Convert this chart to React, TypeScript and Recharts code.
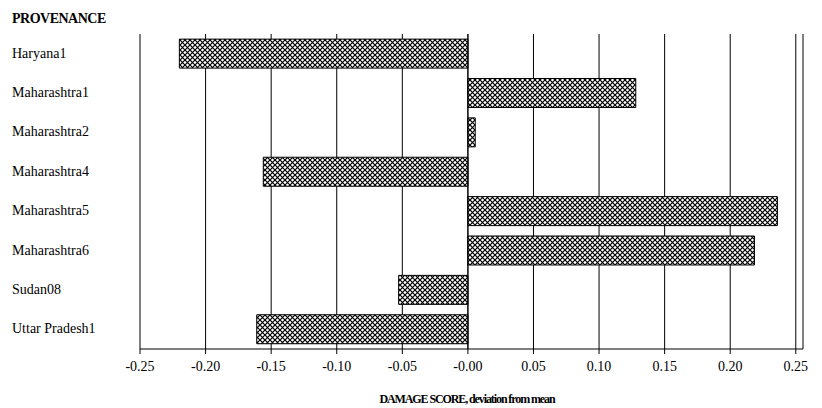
import {
  BarChart,
  Bar,
  XAxis,
  YAxis,
  CartesianGrid,
  ReferenceLine,
  ReferenceArea,
} from 'recharts';

const provenances = [
  'Haryana1',
  'Maharashtra1',
  'Maharashtra2',
  'Maharashtra4',
  'Maharashtra5',
  'Maharashtra6',
  'Sudan08',
  'Uttar Pradesh1',
];

const damageScores = [-0.22, 0.128, 0.0056, -0.156, 0.236, 0.2185, -0.0528, -0.161];

const xTicks = [-0.25, -0.2, -0.15, -0.1, -0.05, 0, 0.05, 0.1, 0.15, 0.2, 0.25];

const data = provenances.map((name, i) => ({ name, score: damageScores[i] }));

const FONT = '"Times New Roman", "Liberation Serif", Times, serif';

// category labels are left aligned at the page edge, not against the axis
const LeftTick = ({ y, payload }: any) => (
  <text x={12} y={y} dy={4} fill="#000" style={{ fontSize: 14, fontFamily: FONT }}>
    {payload.value}
  </text>
);

const BottomTick = ({ x, y, payload }: any) => (
  <text x={x} y={y} dy={15} textAnchor="middle" fill="#000" style={{ fontSize: 14, fontFamily: FONT }}>
    {payload.value === 0 ? '-0.00' : payload.value.toFixed(2)}
  </text>
);

export default function App() {
  return (
    <div style={{ position: 'absolute', left: 0, top: 0, width: 822, height: 408, background: '#fff' }}>
      <BarChart
        width={822}
        height={408}
        data={data}
        layout="vertical"
        margin={{ top: 34, right: 19, left: 0, bottom: 29 }}
        barCategoryGap="13%"
      >
        <defs>
          <pattern id="hatch" width="5" height="5" patternUnits="userSpaceOnUse">
            <rect width="5" height="5" fill="#fff" />
            <path d="M0,0 L5,5 M5,0 L0,5" stroke="#000" strokeWidth={1.2} />
          </pattern>
        </defs>
        <CartesianGrid horizontal={false} stroke="#000" />
        <XAxis
          type="number"
          domain={[-0.25, 0.2555]}
          ticks={xTicks}
          allowDataOverflow
          height={30}
          axisLine={{ stroke: '#000' }}
          tickLine={{ stroke: '#000' }}
          tickSize={5}
          tick={<BottomTick />}
        />
        <YAxis
          type="category"
          dataKey="name"
          width={140}
          axisLine={false}
          tickLine={false}
          tick={<LeftTick />}
        />
        <ReferenceArea fill="none" stroke="#777" strokeWidth={1} ifOverflow="visible" />
        <ReferenceLine x={0} stroke="#000" />
        <Bar
          dataKey="score"
          fill="url(#hatch)"
          stroke="#000"
          strokeWidth={1}
          isAnimationActive={false}
        />
        <text
          x={12}
          y={23}
          fontWeight="bold"
          letterSpacing={-0.5}
          style={{ fontSize: 14, fontFamily: FONT }}
        >
          PROVENANCE
        </text>
        <text
          x={467}
          y={403}
          textAnchor="middle"
          fontWeight="bold"
          letterSpacing={-1.1}
          style={{ fontSize: 12, fontFamily: FONT }}
        >
          DAMAGE SCORE, deviation from mean
        </text>
      </BarChart>
    </div>
  );
}
